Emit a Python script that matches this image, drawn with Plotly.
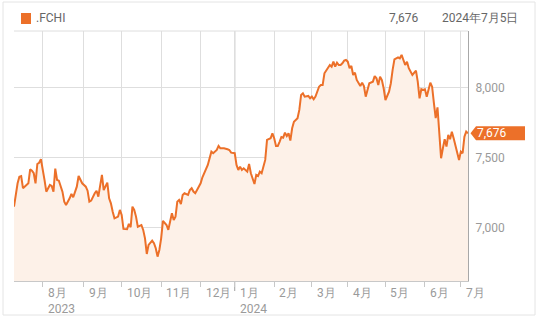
import pandas as pd
import plotly.graph_objects as go

# ---- data (CAC 40, .FCHI) ----
# trading-session index (0 = 2023-07-10) and closing level
sessions = [0, 2, 3, 4, 5, 7, 8, 9, 10, 11, 12, 13, 14, 15, 16, 17, 18, 20, 21, 22, 23, 24, 25, 27, 28, 29,
            31, 32, 33, 35, 36, 38, 40, 41, 42, 43, 45, 46, 47, 48, 49, 50, 52, 53, 54, 55, 56, 58, 59, 60,
            61, 63, 64, 65, 66, 67, 68, 69, 71, 72, 73, 74, 75, 77, 78, 79, 80, 81, 82, 83, 85, 86, 87, 88,
            89, 90, 91, 92, 93, 94, 95, 97, 98, 99, 100, 101, 102, 104, 105, 107, 108, 110, 111, 113, 114,
            115, 117, 119, 120, 121, 123, 124, 125, 126, 127, 128, 130, 131, 132, 134, 135, 136, 137, 138,
            139, 140, 141, 143, 144, 145, 146, 147, 148, 149, 150, 151, 152, 153, 154, 155, 156, 158, 159,
            160, 161, 162, 164, 165, 166, 167, 168, 170, 171, 172, 173, 175, 176, 177, 178, 179, 180, 181,
            182, 183, 184, 185, 186, 187, 188, 189, 190, 191, 192, 193, 194, 195, 196, 197, 198, 200, 201,
            202, 203, 204, 205, 206, 207, 209, 210, 211, 212, 214, 215, 216, 217, 218, 219, 220, 222, 223,
            224, 225, 226, 227, 228, 229, 230, 232, 233, 234, 235, 236, 237, 238, 239, 240, 241, 242, 243,
            244, 245, 246, 247, 248, 249, 250, 251, 252, 253]
closes = [7152, 7319, 7366, 7371, 7284, 7307, 7319, 7419, 7409, 7391, 7319, 7457, 7466, 7491, 7426, 7343,
          7259, 7307, 7300, 7259, 7424, 7343, 7338, 7259, 7188, 7164, 7212, 7243, 7219, 7295, 7371, 7319,
          7295, 7266, 7188, 7195, 7248, 7266, 7224, 7295, 7379, 7271, 7324, 7212, 7176, 7116, 7069, 7081,
          7129, 7093, 6993, 6991, 7029, 7005, 7152, 7129, 7081, 7009, 7021, 6986, 6926, 6814, 6879, 6909,
          6891, 6855, 6795, 6843, 6926, 7050, 7021, 6986, 7045, 7105, 7057, 7081, 7188, 7200, 7171, 7236,
          7248, 7236, 7271, 7284, 7260, 7248, 7271, 7319, 7362, 7426, 7450, 7545, 7534, 7557, 7586, 7569,
          7569, 7562, 7557, 7538, 7534, 7450, 7414, 7438, 7414, 7426, 7402, 7457, 7391, 7314, 7379, 7371,
          7402, 7391, 7450, 7486, 7629, 7641, 7676, 7641, 7586, 7586, 7615, 7650, 7645, 7681, 7657, 7676,
          7624, 7712, 7759, 7784, 7843, 7950, 7962, 7938, 7943, 7926, 7938, 7919, 7938, 8009, 8021, 8021,
          8105, 8148, 8164, 8152, 8188, 8152, 8181, 8164, 8164, 8176, 8195, 8200, 8188, 8141, 8157, 8093,
          8109, 8057, 8038, 8014, 8038, 8014, 7938, 7991, 8034, 8045, 8085, 8069, 8021, 8081, 8057, 7998,
          7914, 7974, 8034, 8129, 8205, 8219, 8212, 8236, 8200, 8164, 8188, 8141, 8093, 8105, 8124, 8045,
          7926, 7991, 7986, 7991, 7938, 8038, 8009, 7891, 7784, 7862, 7700, 7498, 7569, 7634, 7581, 7664,
          7634, 7688, 7641, 7593, 7545, 7486, 7545, 7534, 7652, 7688, 7676]

symbol = ".FCHI"
last_value_label = "7,676"
last_date_label = "2024年7月5日"

tick_months = ["2023-08", "2023-09", "2023-10", "2023-11", "2023-12", "2024-01",
               "2024-02", "2024-03", "2024-04", "2024-05", "2024-06", "2024-07"]
tick_labels = ["8月<br>2023", "9月", "10月", "11月", "12月", "1月<br>2024",
               "2月", "3月", "4月", "5月", "6月", "7月"]
y_ticks = [7000, 7500, 8000]
y_ticktext = ["7,000", "7,500", "8,000"]

holidays = ["2023-12-25", "2023-12-26", "2024-01-01", "2024-03-29", "2024-04-01", "2024-05-01"]

# ---- trading calendar ----
cal = pd.bdate_range("2023-07-10", "2024-07-05")
cal = cal[~cal.isin(pd.to_datetime(holidays))]
cal_months = cal.strftime("%Y-%m")
tick_idx = [int((cal_months == m).argmax()) for m in tick_months]
point_dates = [cal[i].strftime("%Y-%m-%d") for i in sessions]

ORANGE = "#ec7029"
FILL = "#fdf1e8"
GRID = "#dedede"
LABEL = "#9a9a9a"
FONT = "Roboto, Arial, sans-serif"

W, H = 538, 321
L, R, T, B = 14, 70, 31, 40
PW, PH = W - L - R, H - T - B


def px_x(px):
    return (px - L) / PW


def px_y(py):
    return (H - B - py) / PH


fig = go.Figure()
fig.add_trace(go.Scatter(
    x=sessions, y=closes, customdata=point_dates,
    mode="lines", line=dict(color=ORANGE, width=2),
    fill="tozeroy", fillcolor=FILL,
    hovertemplate="%{customdata}: %{y:,}<extra></extra>",
    showlegend=False,
))

shapes = []
# card border
shapes.append(dict(type="rect", xref="paper", yref="paper",
                   x0=px_x(3), x1=px_x(535), y0=px_y(315), y1=px_y(2),
                   line=dict(color="#e4e4e4", width=1), layer="below"))
# legend square
shapes.append(dict(type="rect", xref="paper", yref="paper",
                   x0=px_x(21), x1=px_x(31), y0=px_y(24), y1=px_y(13),
                   line=dict(width=0), fillcolor=ORANGE))
# top border of plot
shapes.append(dict(type="line", xref="paper", yref="paper", x0=0, x1=1, y0=1, y1=1,
                   line=dict(color=GRID, width=1)))
# year boundary line (darker)
jan = tick_idx[5]
shapes.append(dict(type="line", xref="x", yref="paper", x0=jan, x1=jan, y0=px_y(291), y1=1,
                   line=dict(color="#a0a0a0", width=1), layer="between"))
# last value tag
shapes.append(dict(type="path", xref="paper", yref="y", xsizemode="pixel", ysizemode="pixel",
                   xanchor=1, yanchor=closes[-1],
                   path="M 2.5,0 L 8,7 L 57,7 L 57,-7 L 8,-7 Z",
                   fillcolor=ORANGE, line=dict(width=0)))

annotations = []
for ti, tl in zip(tick_idx, tick_labels):
    annotations.append(dict(x=ti, xref="x", y=0, yref="paper", text=tl, showarrow=False,
                            xanchor="left", yanchor="top", align="left", xshift=3, yshift=-3,
                            font=dict(family=FONT, size=12, color=LABEL)))
annotations.append(dict(x=px_x(34), y=px_y(18), xref="paper", yref="paper", text=symbol,
                        showarrow=False, xanchor="left", yanchor="middle",
                        font=dict(family=FONT, size=12, color="#666666")))
annotations.append(dict(x=px_x(421), y=px_y(18), xref="paper", yref="paper", text=last_value_label,
                        showarrow=False, xanchor="right", yanchor="middle",
                        font=dict(family=FONT, size=12, color="#666666")))
annotations.append(dict(x=px_x(520), y=px_y(18), xref="paper", yref="paper", text=last_date_label,
                        showarrow=False, xanchor="right", yanchor="middle",
                        font=dict(family=FONT, size=12, color="#666666")))
annotations.append(dict(x=1, xref="paper", y=closes[-1], yref="y", text=last_value_label,
                        showarrow=False, xanchor="left", yanchor="middle", xshift=7,
                        font=dict(family=FONT, size=12, color="white")))

fig.update_layout(
    width=W, height=H,
    margin=dict(l=L, r=R, t=T, b=B, pad=0),
    paper_bgcolor="white", plot_bgcolor="white",
    font=dict(family=FONT, size=12, color=LABEL),
    shapes=shapes, annotations=annotations,
    hovermode="x",
    xaxis=dict(range=[0, len(cal) - 1], tickvals=tick_idx, ticktext=[""] * len(tick_idx),
               showgrid=True, gridcolor=GRID, gridwidth=1, zeroline=False,
               showline=True, linecolor="#c8c8c8", linewidth=1,
               ticks="outside", ticklen=5, tickcolor="#c8c8c8", fixedrange=True),
    yaxis=dict(range=[6621, 8407], side="right", tickvals=y_ticks, ticktext=y_ticktext,
               showgrid=True, gridcolor=GRID, gridwidth=1, zeroline=False,
               showline=True, linecolor="#a8a8a8", linewidth=1, ticks="",
               ticklabelstandoff=4, tickfont=dict(family=FONT, size=12, color=LABEL),
               fixedrange=True),
)

fig.write_html("out.html")
